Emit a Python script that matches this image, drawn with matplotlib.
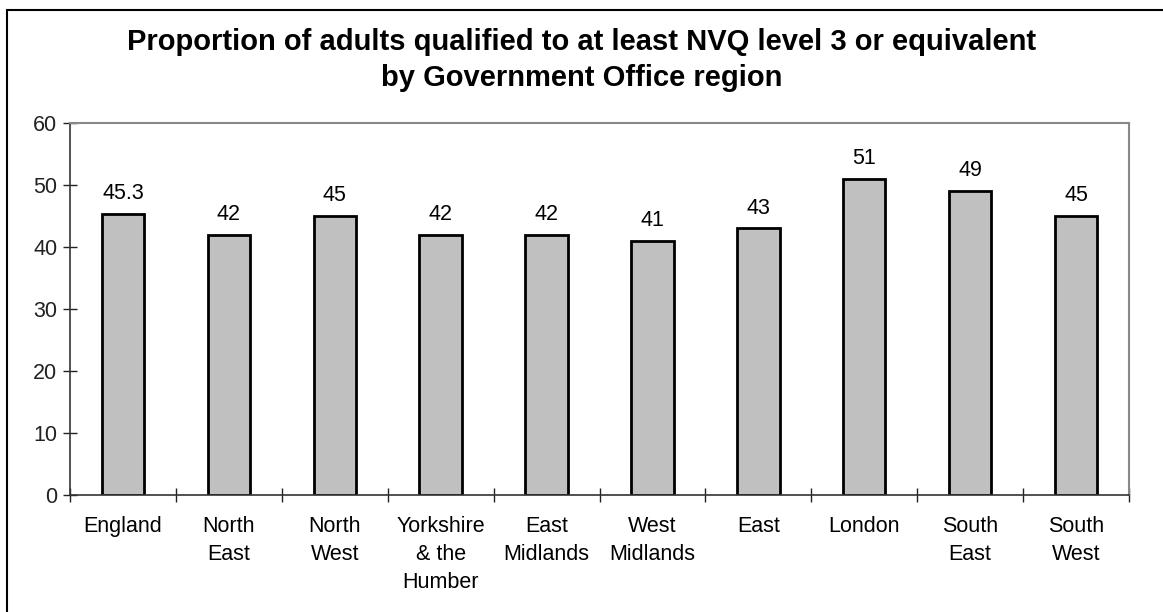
import matplotlib.pyplot as plt
from matplotlib.patches import Rectangle
import numpy as np

plt.rcParams['font.family'] = ['Liberation Sans', 'DejaVu Sans']

regions = ["England", "North\nEast", "North\nWest", "Yorkshire\n& the\nHumber",
           "East\nMidlands", "West\nMidlands", "East", "London", "South\nEast", "South\nWest"]
values = [45.3, 42, 45, 42, 42, 41, 43, 51, 49, 45]
value_labels = ["45.3", "42", "45", "42", "42", "41", "43", "51", "49", "45"]
y_ticks = [0, 10, 20, 30, 40, 50, 60]
title_lines = ["Proportion of adults qualified to at least NVQ level 3 or equivalent",
               "by Government Office region"]

W, H = 1163, 612
fig = plt.figure(figsize=(W / 100, H / 100), dpi=100)
ax = fig.add_axes([70 / W, 1 - 495 / H, (1129 - 70) / W, (495 - 123) / H])

# outer chart frame (runs off the right and bottom edges)
fig.patches.append(Rectangle((7 / W, -0.5), 1.2, 1.5 - 10 / H, transform=fig.transFigure,
                             fill=False, edgecolor='black', linewidth=1.5))

x = np.arange(len(regions))
ax.bar(x, values, width=0.4, color='#C0C0C0', edgecolor='black', linewidth=2)

for xi, v, lab in zip(x, values, value_labels):
    ax.annotate(lab, (xi, v), xytext=(0, 7), textcoords='offset points',
                ha='center', va='bottom', fontsize=15.5)

ax.set_xlim(-0.5, len(regions) - 0.5)
ax.set_ylim(0, 60)
ax.set_yticks(y_ticks)
ax.tick_params(axis='y', direction='inout', length=10, width=1, labelsize=15.5, pad=4, colors='#222222')
ax.set_xticks(np.arange(len(regions) + 1) - 0.5)
ax.set_xticklabels([])
ax.set_xticks(x, minor=True)
ax.set_xticklabels(regions, minor=True, fontsize=15.5, linespacing=1.45)
ax.tick_params(axis='x', which='major', direction='inout', length=10, width=1, colors='#222222')
ax.tick_params(axis='x', which='minor', length=0, pad=15)

for side in ['left', 'bottom']:
    ax.spines[side].set_color('#333333')
    ax.spines[side].set_linewidth(1.2)
for side in ['top', 'right']:
    ax.spines[side].set_color('#888888')
    ax.spines[side].set_linewidth(1.5)

for line, base_y in zip(title_lines, [50, 86]):
    fig.text(0.5, 1 - base_y / H, line, ha='center', va='baseline',
             fontsize=21, fontweight='bold')

fig.savefig('out.png', dpi=100)
